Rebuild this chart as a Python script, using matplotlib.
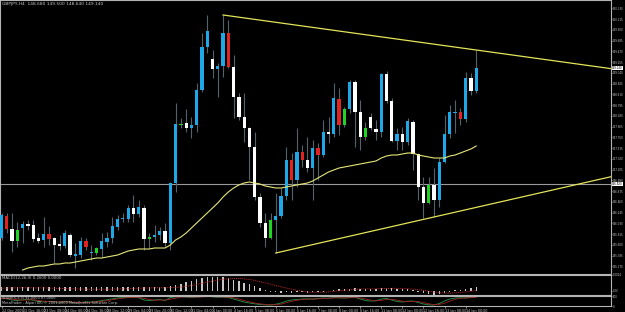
import matplotlib
matplotlib.use("Agg")
import numpy as np
import matplotlib.pyplot as plt

# GBPJPY H4 candles
opens = [145.74, 146.18, 145.92, 145.68, 145.94, 146.02, 146.00, 145.74, 145.70, 145.82,
         145.74, 145.62, 145.58, 145.80, 145.38, 145.40, 145.68, 145.44, 145.44, 145.52,
         145.66, 145.74, 145.96, 146.12, 146.12, 146.34, 146.22, 146.34, 145.72, 145.76,
         145.80, 145.88, 145.64, 146.84, 148.00, 148.04, 147.94, 148.00, 148.70, 149.56,
         149.32, 149.12, 149.18, 149.84, 149.16, 148.56, 148.16, 147.94, 147.56, 146.56,
         146.04, 145.74, 146.10, 146.18, 146.58, 147.30, 146.90, 147.46, 147.30, 147.14,
         147.54, 147.40, 147.86, 147.82, 148.52, 148.00, 148.32, 148.86, 148.26, 147.76,
         148.16, 147.92, 147.86, 149.02, 148.48, 147.68, 147.82, 147.66, 148.06, 147.42,
         146.76, 146.44, 146.80, 146.50, 147.26, 147.82, 148.24, 148.26, 148.12, 148.94,
         148.68]
highs = [146.24, 146.24, 146.24, 146.06, 146.08, 146.10, 146.10, 145.84, 146.16, 145.98,
         145.76, 145.80, 145.90, 145.84, 145.64, 145.76, 145.74, 145.60, 145.56, 145.84,
         145.86, 146.16, 146.20, 146.24, 146.40, 146.60, 146.50, 146.40, 145.84, 146.00,
         145.96, 146.04, 146.86, 148.44, 148.14, 148.32, 148.16, 148.84, 149.84, 150.20,
         149.50, 149.24, 150.20, 150.10, 149.40, 148.64, 148.64, 147.96, 147.86, 146.64,
         146.24, 146.24, 146.64, 146.74, 147.56, 147.44, 147.94, 147.60, 147.76, 147.70,
         147.64, 148.10, 148.16, 148.84, 148.74, 148.36, 148.90, 148.90, 148.50, 148.06,
         148.24, 148.10, 149.04, 149.08, 148.54, 147.94, 147.96, 148.14, 148.10, 147.44,
         146.96, 146.96, 147.14, 147.34, 148.20, 148.40, 148.50, 148.34, 149.06, 149.04,
         149.50]
lows = [145.70, 145.84, 145.46, 145.56, 145.64, 145.90, 145.66, 145.64, 145.56, 145.60,
        145.24, 145.50, 145.54, 145.36, 145.14, 145.34, 145.50, 145.30, 145.40, 145.36,
        145.56, 145.64, 145.90, 146.06, 146.06, 146.06, 146.16, 145.50, 145.54, 145.66,
        145.70, 145.56, 145.50, 146.66, 147.94, 147.86, 147.74, 147.86, 148.66, 149.44,
        148.94, 148.56, 148.96, 149.14, 148.14, 148.10, 147.66, 146.90, 146.50, 145.96,
        145.56, 145.72, 145.44, 146.14, 146.50, 146.50, 146.76, 147.16, 147.06, 146.50,
        146.90, 147.36, 147.64, 147.76, 147.80, 147.96, 148.24, 147.56, 147.50, 147.70,
        147.90, 147.70, 147.76, 148.44, 147.66, 147.50, 147.50, 147.60, 147.10, 146.50,
        146.14, 146.42, 146.16, 146.36, 147.24, 147.74, 147.84, 148.00, 148.06, 148.60,
        148.64]
closes = [146.20, 145.92, 145.68, 145.90, 146.02, 145.98, 145.72, 145.68, 145.82, 145.72,
          145.60, 145.58, 145.84, 145.40, 145.42, 145.68, 145.56, 145.46, 145.54, 145.68,
          145.74, 145.98, 146.12, 146.14, 146.34, 146.22, 146.36, 145.72, 145.76, 145.80,
          145.88, 145.64, 146.84, 148.02, 148.02, 147.94, 148.00, 148.70, 149.56, 149.88,
          149.12, 149.18, 149.84, 149.16, 148.56, 148.16, 147.94, 147.56, 146.56, 146.04,
          145.74, 146.10, 146.18, 146.58, 147.30, 146.90, 147.46, 147.30, 147.14, 147.54,
          147.40, 147.86, 147.82, 148.54, 148.00, 148.32, 148.86, 148.26, 147.76, 147.94,
          147.94, 147.86, 149.02, 148.48, 147.68, 147.82, 147.66, 148.08, 147.42, 146.76,
          146.44, 146.80, 146.50, 147.26, 147.82, 148.26, 148.26, 148.12, 148.94, 148.68,
          149.14]
# b = up bar, w = down bar, r / g = highlighted bars
kinds = "brwgbwwwbrwwbwbbrbgbbbbbbwbwgbbwbbgwbbbbwbbrwwwwwwwgbbbrbrwbrbwbrgbwwgwwbwwbwbwwwgwbbbbrbwb"

ma_start = 4
ma_values = [145.10, 145.14, 145.16, 145.18, 145.18, 145.20, 145.22, 145.22, 145.24, 145.24,
             145.26, 145.28, 145.30, 145.32, 145.34, 145.34, 145.36, 145.38, 145.40, 145.44,
             145.48, 145.50, 145.52, 145.52, 145.52, 145.54, 145.54, 145.54, 145.60, 145.70,
             145.76, 145.84, 145.94, 146.04, 146.14, 146.24, 146.34, 146.44, 146.56, 146.66,
             146.74, 146.80, 146.84, 146.86, 146.84, 146.82, 146.78, 146.76, 146.74, 146.74,
             146.76, 146.78, 146.80, 146.82, 146.84, 146.88, 146.94, 147.00, 147.06, 147.10,
             147.14, 147.16, 147.18, 147.20, 147.22, 147.24, 147.26, 147.28, 147.34, 147.38,
             147.40, 147.40, 147.42, 147.44, 147.44, 147.40, 147.38, 147.36, 147.34, 147.34,
             147.34, 147.38, 147.40, 147.44, 147.48, 147.52, 147.58]

# trend lines: two anchor points each (bar, price)
upper_line = [(42, 150.20), (90, 149.50)]
lower_line = [(52, 145.44), (82, 146.16)]
hline_price = 146.82

macd_hist = [0.24, 0.25, 0.23, 0.24, 0.25, 0.24, 0.23, 0.24, 0.22, 0.23, 0.24, 0.22, 0.23, 0.22,
             0.21, 0.22, 0.23, 0.22, 0.21, 0.22, 0.23, 0.24, 0.25, 0.26, 0.27, 0.26, 0.27, 0.25,
             0.24, 0.24, 0.25, 0.24,
             0.30, 0.36, 0.46, 0.56, 0.63, 0.73, 0.82, 0.85, 0.88, 0.88,
             0.85, 0.78, 0.71, 0.63, 0.52, 0.42, 0.30, 0.15, 0.02, -0.06,
             -0.10, -0.12, -0.10, -0.12, -0.10, -0.11, -0.12, -0.10, -0.09, -0.05,
             -0.02, 0.06, 0.08, 0.10, 0.14, 0.15, 0.13, 0.12, 0.12, 0.11,
             0.18, 0.20, 0.15, 0.12, 0.10, 0.11, 0.06, -0.05, -0.15, -0.22,
             -0.25, -0.22, -0.15, -0.06, 0.02, 0.06, 0.12, 0.15, 0.26]
macd_signal = [0.16, 0.17, 0.18, 0.18, 0.19, 0.19, 0.19, 0.18, 0.18, 0.17, 0.16, 0.15, 0.14, 0.13,
               0.12, 0.11, 0.10, 0.10, 0.09, 0.09, 0.10, 0.10, 0.11, 0.12, 0.13, 0.15, 0.16, 0.17,
               0.18, 0.19, 0.19, 0.19,
               0.20, 0.21, 0.24, 0.28, 0.33, 0.40, 0.47, 0.55, 0.61, 0.68,
               0.73, 0.77, 0.78, 0.78, 0.76, 0.72, 0.66, 0.58, 0.50, 0.42,
               0.33, 0.25, 0.17, 0.10, 0.04, -0.03, -0.07, -0.10, -0.10, -0.09,
               -0.07, -0.04, 0.00, 0.03, 0.06, 0.09, 0.11, 0.12, 0.12, 0.13,
               0.14, 0.14, 0.15, 0.15, 0.14, 0.13, 0.10, 0.07, 0.02, -0.03,
               -0.08, -0.12, -0.14, -0.15, -0.13, -0.10, -0.07, -0.03, 0.00]

stoch_k = [78, 72, 60, 55, 62, 66, 58, 45, 40, 45, 42, 35, 45, 40, 30, 35, 42, 38, 45, 55,
           62, 72, 80, 85, 88, 86, 84, 60, 55, 60, 65, 55,
           85, 92, 93, 90, 88, 90, 94, 96, 92, 88, 90, 85, 70, 55, 40, 30, 22, 15, 12, 10,
           18, 30, 50, 60, 65, 70, 72, 68, 75, 80,
           78, 85, 82, 80, 85, 88, 70, 55, 50, 52,
           70, 75, 60, 45, 40, 48, 50, 35, 20, 12,
           10, 25, 50, 70, 80, 82, 80, 88, 92]
stoch_d = [75, 75, 69, 62, 59, 61, 62, 56, 48, 43, 42, 41, 41, 40, 38, 35, 36, 38, 42, 46,
           54, 63, 71, 79, 84, 86, 86, 77, 66, 58, 60, 60,
           68, 77, 90, 92, 90, 89, 91, 93, 94, 92, 90, 88, 82, 70, 55, 42, 31, 22, 16, 12,
           13, 19, 33, 47, 58, 65, 69, 70, 72, 74,
           78, 81, 82, 82, 82, 84, 81, 71, 58, 52,
           57, 66, 68, 60, 48, 44, 46, 44, 35, 22,
           14, 16, 28, 48, 67, 77, 81, 83, 87]

price_ticks = [150.330, 150.115, 149.900, 149.685, 149.470, 149.255, 149.040, 148.825,
               148.610, 148.395, 148.180, 147.965, 147.750, 147.535, 147.320, 147.105,
               146.890, 146.675, 146.460, 146.245, 146.030, 145.815, 145.600, 145.385,
               145.170]
date_labels = ["22 Dec 2009", "22 Dec 16:00", "23 Dec 08:00", "24 Dec 00:00", "24 Dec 16:00",
               "28 Dec 12:00", "29 Dec 04:00", "29 Dec 20:00", "30 Dec 12:00", "31 Dec 04:00",
               "4 Jan 00:00", "4 Jan 16:00", "5 Jan 08:00", "6 Jan 00:00", "6 Jan 16:00",
               "7 Jan 08:00", "8 Jan 00:00", "8 Jan 16:00", "11 Jan 08:00", "12 Jan 00:00",
               "12 Jan 16:00", "13 Jan 08:00", "14 Jan 00:00"]

BG = "black"
FG = "#c8c8c8"
colors = {"b": "#1ea8e8", "w": "#ffffff", "r": "#e02424", "g": "#22d422"}
AX_W = 0.977
LBL = 1.9

fig = plt.figure(figsize=(6.25, 3.12), dpi=100, facecolor=BG)
ax = fig.add_axes([0.0, 0.1218, AX_W, 0.8782], facecolor=BG)
ax_macd = fig.add_axes([0.0, 0.0545, AX_W, 0.0641], facecolor=BG, sharex=ax)
ax_st = fig.add_axes([0.0, 0.0192, AX_W, 0.032], facecolor=BG, sharex=ax)

idx = np.arange(len(opens))
o = np.array(opens)
c = np.array(closes)

# candles
ax.vlines(idx, lows, highs, color="#55616d", lw=0.8, zorder=2)
bottoms = np.minimum(o, c)
heights = np.maximum(np.abs(c - o), 0.02)
ax.bar(idx, heights, bottom=bottoms, width=0.62,
       color=[colors[k] for k in kinds], lw=0, zorder=3)

ax.plot(np.arange(ma_start, ma_start + len(ma_values)), ma_values,
        color="#e6e67a", lw=0.8, zorder=4)

x_right = 115.5
for (x1, y1), (x2, y2) in (upper_line, lower_line):
    slope = (y2 - y1) / (x2 - x1)
    ax.plot([x1, x_right], [y1, y1 + slope * (x_right - x1)], color="#e4e45a", lw=0.9, zorder=4)

ax.axhline(hline_price, color="#9a9a9a", lw=0.8, zorder=1)

ax.set_xlim(-0.3, x_right)
ax.set_ylim(145.02, 150.50)
ax.yaxis.tick_right()
ax.set_yticks(price_ticks)
ax.set_yticklabels([f"{v:.3f}" for v in price_ticks])
ax.tick_params(axis="y", colors=FG, labelsize=LBL, length=1.0, width=0.5, pad=0.3)
ax.tick_params(axis="x", bottom=False, labelbottom=False)

trans = ax.get_yaxis_transform()
for val in (closes[-1], hline_price):
    ax.text(1.002, val, f"{val:.3f}", transform=trans, fontsize=LBL, color="black",
            va="center", ha="left",
            bbox=dict(boxstyle="square,pad=0.12", fc="white", ec="none"), clip_on=False)

ax.text(0.004, 0.992,
        f"GBPJPY,H4  {opens[-1]:.3f} {highs[-1]:.3f} {lows[-1]:.3f} {closes[-1]:.3f}",
        transform=ax.transAxes, fontsize=3.2, color=FG, va="top", ha="left")

# MACD panel
ax_macd.bar(idx, macd_hist, width=0.25, color="#c8c8c8", lw=0)
ax_macd.plot(idx, macd_signal, color="#c02828", lw=0.7, ls=(0, (1, 1)))
ax_macd.set_ylim(-0.27, 1.0024)
ax_macd.yaxis.tick_right()
ax_macd.set_yticks([1.0024, 0.0])
ax_macd.set_yticklabels(["1.0024", "0.00"])
ax_macd.tick_params(axis="y", colors=FG, labelsize=LBL, length=1.0, width=0.5, pad=0.3)
ax_macd.tick_params(axis="x", bottom=False, labelbottom=False)
ax_macd.text(0.004, 0.93, f"MACD(12,26,9) {macd_hist[-1]:.4f} {macd_signal[-1]:.4f}",
             transform=ax_macd.transAxes, fontsize=2.8, color=FG, va="top", ha="left")

# Stochastic panel
ax_st.plot(idx, stoch_k, color="#1f9a4a", lw=0.6)
ax_st.plot(idx, stoch_d, color="#a02020", lw=0.6)
ax_st.set_ylim(0, 100)
ax_st.yaxis.tick_right()
ax_st.set_yticks([100, 0])
ax_st.set_yticklabels(["100", "0"])
ax_st.tick_params(axis="y", colors=FG, labelsize=LBL, length=1.0, width=0.5, pad=0.3)
ax_st.text(0.004, 1.0, f"Stoch(5,3,3) {stoch_k[-1]:.4f} {stoch_d[-1]:.4f}",
           transform=ax_st.transAxes, fontsize=2.5, color=FG, va="top", ha="left")
ax_st.text(0.004, 0.5, "MetaTrader - Alpari UK, \u00a9 2001-2009 MetaQuotes Software Corp.",
           transform=ax_st.transAxes, fontsize=2.5, color=FG, va="top", ha="left")

ax_st.set_xticks(np.arange(0, 4 * len(date_labels), 4))
ax_st.set_xticklabels(date_labels, ha="left")
ax_st.tick_params(axis="x", colors=FG, labelsize=2.4, length=1.5, width=0.5, pad=0.5)

for a in (ax, ax_macd, ax_st):
    for s in a.spines.values():
        s.set_color("#b4b4b4")
        s.set_linewidth(0.8)

fig.savefig("out.png", dpi=100, facecolor=BG)
